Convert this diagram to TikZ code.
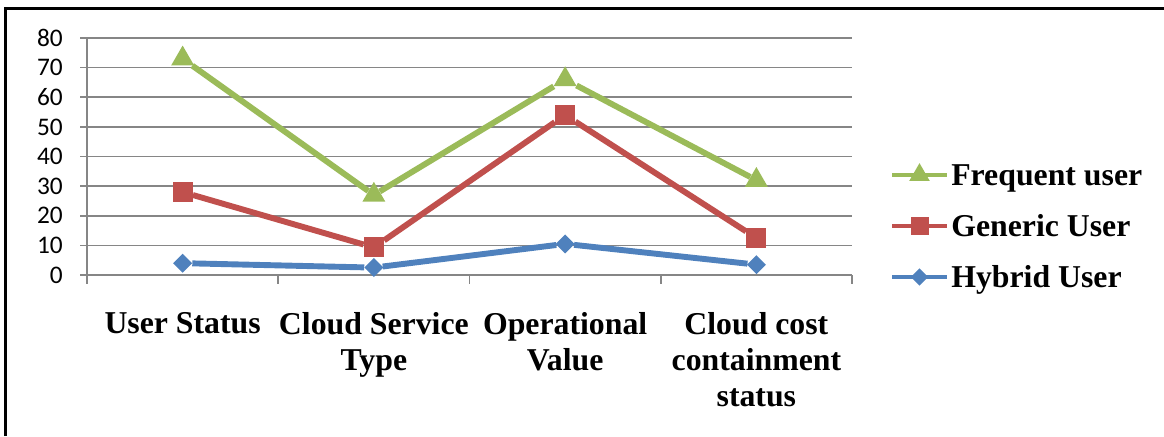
\documentclass[tikz,border=0pt]{standalone}
\usepackage{fontspec}
\setmainfont{Liberation Serif}
\newfontfamily\axisfont{Carlito}
\usetikzlibrary{shapes.geometric}
\definecolor{freqgreen}{HTML}{9BBB59}
\definecolor{genred}{HTML}{C0504D}
\definecolor{hybblue}{HTML}{4F81BD}
\definecolor{gridgray}{HTML}{868686}

\begin{document}
\begin{tikzpicture}[
    x=0.025cm, y=-0.025cm,
    gridline/.style={gridgray, line width=1.2pt},
    ticklabel/.style={font=\axisfont\fontsize{18}{20}\selectfont, anchor=east, inner sep=0pt},
    catlabel/.style={font=\bfseries\fontsize{22.6}{25.5}\selectfont, align=center, anchor=north, inner sep=0pt},
    legendtext/.style={font=\bfseries\fontsize{22.6}{25.5}\selectfont, anchor=base west, inner sep=0pt},
    series/.style={line width=4.2pt, line join=round},
    tri/.style={regular polygon, regular polygon sides=3, fill=freqgreen, minimum size=0.66cm, inner sep=0pt},
    sq/.style={rectangle, fill=genred, minimum size=0.5cm, inner sep=0pt},
    dia/.style={diamond, fill=hybblue, minimum width=0.48cm, minimum height=0.48cm, inner sep=0pt},
]
\useasboundingbox (0,0) rectangle (1164,436);
\pgfmathsetmacro{\xzero}{87}
\pgfmathsetmacro{\xstep}{191.25}
\pgfmathsetmacro{\yzero}{275}
\pgfmathsetmacro{\yunit}{2.9625}
\draw[line width=2pt] (5.5,436) -- (5.5,8.5) -- (1164,8.5);
\foreach \v in {0,10,...,80} {
  \draw[gridline] (80,{\yzero-\yunit*\v}) -- (852,{\yzero-\yunit*\v});
  \node[ticklabel] (yl\v) at (63,{\yzero-\yunit*\v}) {\v};
}
\draw[gridline] (\xzero,38) -- (\xzero,284);
\foreach \i in {1,...,4} {
  \draw[gridline] ({\xzero+\xstep*\i},\yzero) -- ({\xzero+\xstep*\i},284);
}
\foreach \txt [count=\i] in {User Status, Cloud Service\\Type, Operational\\Value, Cloud cost\\containment\\status} {
  \node[catlabel] (cat\i) at ({\xzero+\xstep*(\i-0.5)},312) {\txt};
}
\foreach \v [count=\i] in {4,2.5,10.5,3.5} {
  \node[dia] (h\i) at ({\xzero+\xstep*(\i-0.5)},{\yzero-\yunit*\v}) {};
}
\draw[series, hybblue] (h1) -- (h2) -- (h3) -- (h4);
\foreach \v [count=\i] in {28,9.3,54,12.5} {
  \node[sq] (g\i) at ({\xzero+\xstep*(\i-0.5)},{\yzero-\yunit*\v}) {};
}
\draw[series, genred] (g1) -- (g2) -- (g3) -- (g4);
\foreach \v [count=\i] in {73,27,66,32} {
  \node[tri] (f\i) at ({\xzero+\xstep*(\i-0.5)},{\yzero-\yunit*\v}) {};
}
\draw[series, freqgreen] (f1) -- (f2) -- (f3) -- (f4);
\foreach \key/\yy/\mk/\col/\txt in {freq/175/tri/freqgreen/Frequent user, gen/226/sq/genred/Generic User, hyb/277/dia/hybblue/Hybrid User} {
  \coordinate (la\key) at (892,\yy);
  \coordinate (lb\key) at (947,\yy);
  \draw[series, line width=3.5pt, \col] (la\key) -- (lb\key);
  \node[style=\mk, scale=0.9] (lm\key) at (919.5,\yy) {};
  \node[legendtext] (lt\key) at (951,\yy+10.5) {\txt};
}
\end{tikzpicture}
\end{document}
